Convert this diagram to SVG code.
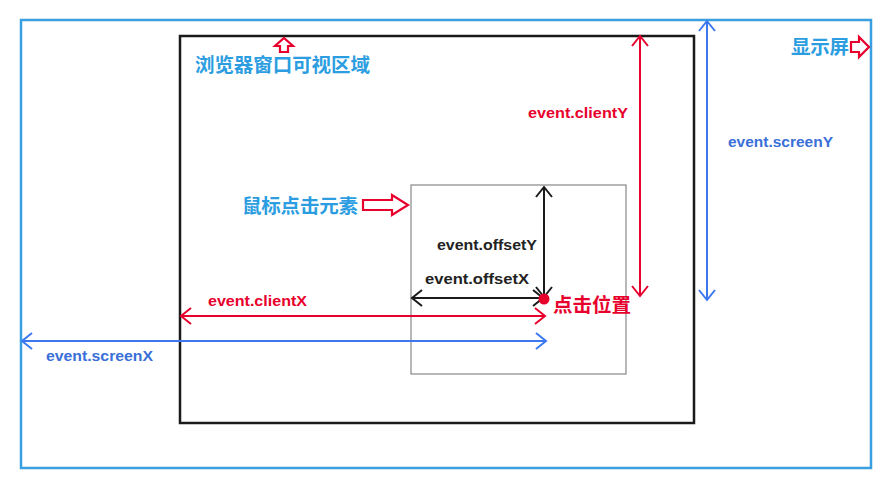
<svg xmlns="http://www.w3.org/2000/svg" width="886" height="481" viewBox="0 0 886 481">
<style>
.en{font-family:"Liberation Sans",Arial,sans-serif;font-weight:bold;font-size:15px}
.cn{font-family:"Noto Sans CJK SC","Liberation Sans",sans-serif;font-weight:bold;font-size:19.5px;fill:#2b9de0}
.red{fill:#e8002d}.blue{fill:#3a6fd8}.blk{fill:#222}
.hollow{fill:#fff;stroke:#e8002d;stroke-width:2.2;stroke-linejoin:miter}
</style>
<defs>
<marker id="mk" viewBox="-12 -10 14 20" markerWidth="14" markerHeight="20" refX="0" refY="0" orient="auto-start-reverse" markerUnits="userSpaceOnUse">
<path d="M-10,-8 L0,0 L-10,8" fill="none" stroke="context-stroke" stroke-width="2"/>
</marker>
</defs>
<rect width="886" height="481" fill="#fff"/>
<g id="screen"><rect x="21" y="20" width="850" height="448" fill="none" stroke="#3a9fe0" stroke-width="2.5"/></g>
<g id="viewport"><rect x="180" y="36" width="514" height="387" fill="none" stroke="#1a1a1a" stroke-width="2.5"/></g>
<g id="element"><rect x="411" y="185" width="215" height="189" fill="none" stroke="#888" stroke-width="1.2"/></g>
<g id="connectors" fill="none" stroke-width="2">
<line x1="544" y1="187" x2="544" y2="297" stroke="#1a1a1a" marker-start="url(#mk)" marker-end="url(#mk)"/>
<line x1="412" y1="298" x2="543" y2="298" stroke="#1a1a1a" marker-start="url(#mk)" marker-end="url(#mk)"/>
<line x1="640" y1="36" x2="640" y2="296" stroke="#e8002d" marker-start="url(#mk)" marker-end="url(#mk)"/>
<line x1="707" y1="21" x2="707" y2="300" stroke="#3b78f0" marker-start="url(#mk)" marker-end="url(#mk)"/>
<line x1="181" y1="316" x2="545" y2="316" stroke="#e8002d" marker-start="url(#mk)" marker-end="url(#mk)"/>
<line x1="22" y1="341" x2="546" y2="341" stroke="#3b78f0" marker-start="url(#mk)" marker-end="url(#mk)"/>
</g>
<g id="click-point"><circle cx="544" cy="299" r="5.5" fill="#e8002d"/>
<text class="cn red" x="553" y="312" textLength="78">点击位置</text></g>
<g id="viewport-label">
<path class="hollow" d="M284,38 L293,46 L288,46 L288,52 L280,52 L280,46 L275,46 Z"/>
<text class="cn" x="195" y="72" textLength="175">浏览器窗口可视区域</text></g>
<g id="screen-label">
<text class="cn" x="791" y="54" textLength="58">显示屏</text>
<path class="hollow" d="M851,42 L859,42 L859,37 L869,47 L859,57 L859,52 L851,52 Z"/></g>
<g id="element-label">
<text class="cn" x="242" y="213" textLength="116">鼠标点击元素</text>
<path class="hollow" d="M363,200 L392,200 L392,195 L408,205 L392,215 L392,210 L363,210 Z"/></g>
<g id="labels">
<text class="en red" x="528" y="118" textLength="100" lengthAdjust="spacingAndGlyphs">event.clientY</text>
<text class="en blue" x="728" y="147" textLength="105" lengthAdjust="spacingAndGlyphs">event.screenY</text>
<text class="en blk" x="437" y="250" textLength="100" lengthAdjust="spacingAndGlyphs">event.offsetY</text>
<text class="en blk" x="425" y="284" textLength="104" lengthAdjust="spacingAndGlyphs">event.offsetX</text>
<text class="en red" x="208" y="306" textLength="99" lengthAdjust="spacingAndGlyphs">event.clientX</text>
<text class="en blue" x="46" y="361" textLength="107" lengthAdjust="spacingAndGlyphs">event.screenX</text>
</g>
</svg>
